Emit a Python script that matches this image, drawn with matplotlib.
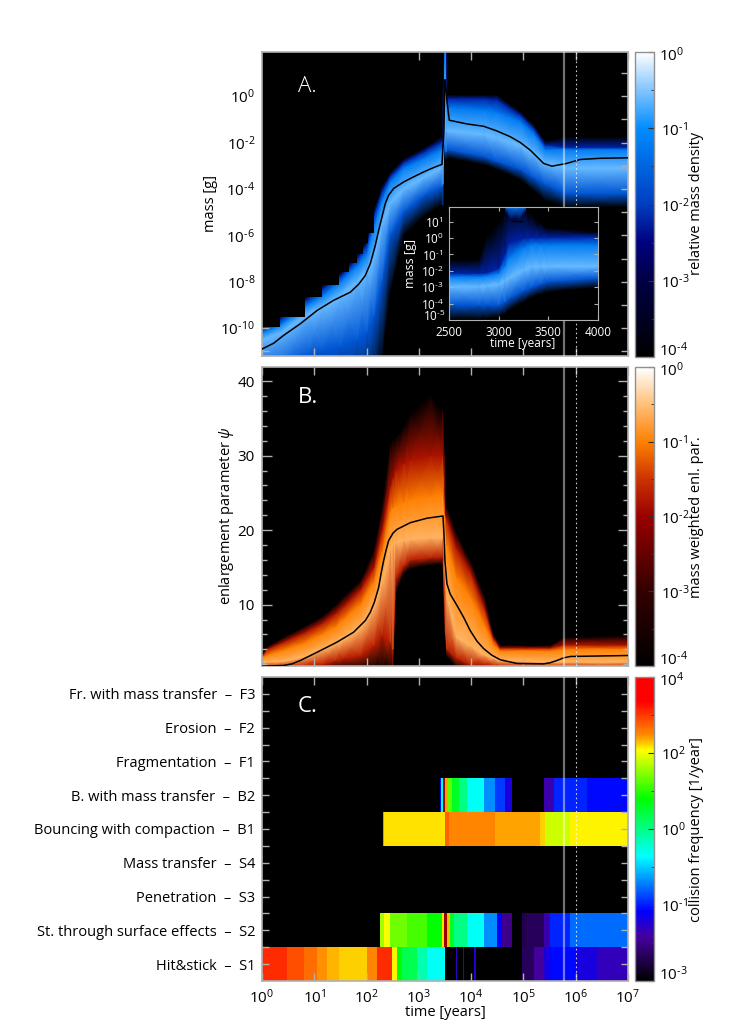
import numpy as np
import matplotlib
matplotlib.use('Agg')
import matplotlib.pyplot as plt
from matplotlib.colors import LinearSegmentedColormap, LogNorm
from matplotlib.cm import ScalarMappable
from matplotlib.ticker import FixedLocator, NullLocator, NullFormatter

plt.rcParams['font.family'] = ['Open Sans', 'DejaVu Sans']
plt.rcParams['mathtext.fontset'] = 'custom'
plt.rcParams['mathtext.rm'] = 'Open Sans'
plt.rcParams['mathtext.it'] = 'Open Sans:italic'

# panel A, log10 time and log10 mass of the density contours
a_t = [0, .35, .86, 1.15, 1.5, 1.82, 2.0, 2.14, 2.29, 2.45, 2.71, 3.09, 3.44, 3.465, 3.475, 3.525, 3.545,
       4.24, 4.49, 4.94, 5.19, 5.42, 5.83, 7]
a_low = [-14, -14, -14, -14, -14, -14, -14, -13, -11.4, -8.5, -6, -5.2, -4.7, -4.7, -2.6, -2.7, -2.65,
         -2.95, -3.15, -3.6, -4.06, -4.5, -4.78, -4.78]
a_lowmid = [-12, -11.9, -11.2, -11, -10.8, -10.5, -10.2, -9.5, -8, -6, -5, -4.3, -3.9, -3.8, -2.3, -2.4, -2.3,
            -2.6, -2.8, -3.15, -3.5, -3.8, -4.2, -4.2]
a_peak = [-10.5, -10.2, -9.4, -9.1, -8.6, -8.0, -7.6, -7, -5.5, -4.6, -4.0, -3.5, -3.1, -3, -1.5, -1.5, -1.5,
          -1.65, -1.8, -2.15, -2.5, -2.9, -3.1, -3.1]
a_up = [-10.2, -9.85, -9.0, -8.6, -8, -7.3, -6.8, -5.6, -4.5, -3.7, -3.1, -2.7, -2.3, -2.2, 2.4, 2.4, -.5,
        -.6, -.7, -1.1, -1.6, -2.3, -2.3, -2.3]
a_edge = [-10.0, -9.6, -8.75, -8.3, -7.75, -7.0, -6.4, -5.1, -4.1, -3.45, -2.85, -2.4, -1.95, -1.9, 2.5, 2.5, -.1,
          -.1, -.15, -.8, -1.35, -2.1, -2.2, -2.2]
a_top = [-9.9, -9.45, -8.6, -8.15, -7.6, -6.8, -6.2, -4.9, -3.9, -3.3, -2.7, -2.25, -1.75, -1.7, 2.6, 2.6, .04,
         .04, .04, -.68, -1.25, -1.95, -1.75, -1.75]
a_levels = [1e-4, .02, .25, .06, 6e-3, 1e-4]
a_step_t = [0, .35, .83, 1.15, 1.47, 1.66, 1.82, 1.93, 2.02, 2.14]
a_step_y = [-9.93, -9.5, -8.65, -8.15, -7.6, -7.2, -6.8, -6.35, -5.9, -5.9]
a_line_t = [0, .223, .414, .733, 1.052, 1.37, 1.689, 1.848, 1.976, 2.071, 2.167, 2.231, 2.294, 2.358, 2.422, 2.518,
            2.709, 2.9, 3.091, 3.282, 3.442, 3.48, 3.495, 3.505, 3.537, 3.582, 3.92, 4.238, 4.49, 4.748, 4.94,
            5.13, 5.26, 5.386, 5.545, 5.83, 6.087, 6.47, 7]
a_line = [-10.9, -10.65, -10.31, -9.81, -9.24, -8.8, -8.45, -8.11, -7.73, -7.22, -6.43, -5.79, -5.21, -4.63, -4.27, -3.98,
          -3.7, -3.48, -3.27, -3.08, -2.94, -1.5, .7, .7, -.2, -1.04, -1.2, -1.3, -1.5, -1.75, -2.0,
          -2.33, -2.62, -2.9, -3.02, -2.9, -2.73, -2.68, -2.66]

# inset of panel A, linear time
ins_t = [2500, 2800, 2880, 3000, 3060, 3100, 3250, 3330, 3420, 3500, 4000]
ins_low = [-4.94, -4.94, -4.9, -4.8, -4.6, -4.4, -3.9, -3.6, -3.4, -3.27, -3.0]
ins_lowmid = [-4.08, -4.08, -4.08, -4.08, -3.9, -3.7, -3.2, -3.0, -2.8, -2.65, -2.45]
ins_peak = [-2.96, -2.96, -2.9, -2.8, -2.6, -2.45, -1.95, -1.75, -1.73, -1.73, -1.73]
ins_up = [-2.35, -2.35, -2.3, -2.14, -1.7, -1.2, -.6, -.4, -.4, -.4, -.4]
ins_edge = [-2.14, -2.14, -2.1, -1.84, -1.0, -.3, .0, .05, .05, .05, .1]
ins_top = [-1.33, -1.3, .1, 1.0, 1.6, 1.95, 1.95, 1.4, .9, .6, .37]
cap_t = [3070, 3120, 3210, 3270]
cap_low = [1.6, 1.15, 1.15, 1.6]
cap_high = [1.95, 1.95, 1.95, 1.95]

# panel B, log10 time and enlargement parameter contours
b_t = [0, .096, .414, .797, 1.147, 1.402, 1.562, 1.881, 2.135, 2.294, 2.454, 2.505, 2.556, 2.709, 2.836, 3.218, 3.46,
       3.49, 3.51, 3.537, 3.728, 3.983, 4.238, 4.43, 4.557, 5.513, 5.768, 7]
b_low = [1.2, 1.2, 1.2, 1.2, 1.2, 1.2, 1.2, 1.2, 1.2, 1.2, 1.2, 1.2, 11.5, 14.1, 14.8, 15.3, 15.4,
         7, 4.5, 3, 1.5, 1.2, 1.2, 1.2, 1.2, 1.2, 1.2, 1.2]
b_lowmid = [1.6, 1.6, 1.6, 1.7, 2, 2.5, 2.8, 3.2, 4.5, 6, 5, 4, 13.5, 15.2, 16, 16.3, 16.4,
            11, 6, 4, 2.8, 2, 2, 1.8, 1.7, 1.6, 1.6, 1.6]
b_peak = [2.2, 2.3, 2.4, 3.0, 3.9, 4.7, 5.3, 6.8, 9.5, 13, 17.5, 18, 18.3, 18.6, 18.8, 19, 19,
          17, 13, 11, 5.6, 4.5, 3.3, 2.8, 2.5, 2.3, 2.3, 2.3]
b_up1 = [2.9, 3.2, 3.9, 4.8, 6, 7, 8, 10, 13, 17, 22.5, 23, 23.3, 23.7, 24, 24.5, 24.8,
         22.5, 20, 18, 13.5, 11, 7.5, 4.6, 3.8, 3.8, 4.0, 4.0]
b_up2 = [3.1, 4.0, 5.0, 6.2, 7.5, 8.8, 9.8, 12, 15, 20, 26, 27, 28, 29, 29.5, 30, 30,
         27, 22, 21.5, 17.5, 14.5, 10, 5.5, 4.2, 4.2, 4.6, 4.6]
b_top = [3.2, 4.3, 5.6, 7, 8.4, 9.9, 11.1, 13.2, 17.2, 23, 31.5, 32, 32.5, 34, 35.8, 38.2, 36,
         30, 23.5, 23, 19.5, 15.9, 11.4, 5.85, 4.5, 4.5, 5.6, 5.85]
b_levels = [1e-4, .02, .25, .1, .015, 1e-4]
b_line_t = [0, .414, .574, .733, 1.052, 1.434, 1.753, 1.976, 2.071, 2.148, 2.231, 2.275, 2.326, 2.377, 2.422, 2.505,
            2.581, 2.836, 3.155, 3.461, 3.48, 3.499, 3.537, 3.601, 3.728, 3.856, 3.983, 4.111, 4.238, 4.398, 4.557,
            4.876, 5.386, 5.513, 5.641, 5.768, 5.895, 7]
b_line = [1.74, 1.83, 2.05, 2.5, 3.6, 4.96, 6.3, 7.86, 8.97, 10.3, 12.3, 14.1, 15.9, 17.4, 18.6, 19.6,
          20.1, 21, 21.6, 21.9, 19.5, 15.9, 12.8, 11.4, 9.9, 8.3, 6.5, 5.1, 4.1, 3.2, 2.6,
          2.1, 2.05, 2.2, 2.5, 2.85, 3.04, 3.17]

# panel C, log10 time edges and log10 collision frequency per process
categories = ['Hit&stick  \u2013  S1', 'St. through surface effects  \u2013  S2', 'Penetration  \u2013  S3',
              'Mass transfer  \u2013  S4', 'Bouncing with compaction  \u2013  B1', 'B. with mass transfer  \u2013  B2',
              'Fragmentation  \u2013  F1', 'Erosion  \u2013  F2', 'Fr. with mass transfer  \u2013  F3']
s1_edges = [0, .478, .797, 1.05, 1.243, 1.466, 2.008, 2.2, 2.486, 2.58, 2.677, 2.964, 3.155, 3.505, 3.709, 3.735,
            3.837, 3.856, 4.06, 4.085, 4.97, 5.194, 5.386, 5.513, 5.99, 6.405, 7]
s1_vals = [3.2, 3.0, 2.85, 2.65, 2.55, 2.45, 2.7, 3.2, 2.35, 1.2, .8, .3, -.1, -3, -1.8, -3,
           -1.8, -3, -1.7, -3, -2.4, -2, -1.6, -1.35, -1.6, -1.8]
s2_edges = [2.263, 2.326, 2.454, 2.772, 3.155, 3.442, 3.474, 3.537, 3.588, 3.665, 3.92, 4.238, 4.493, 4.589, 4.78,
            4.97, 5.067, 5.386, 5.513, 5.895, 7]
s2_vals = [1.9, 2.3, 1.7, 1.5, 1.2, 2.4, 4.5, 2.5, 1, .5, -.1, -.7, -1.4, -2.1, -3, -2.5, -2.4, -1.9, -1.2, -.85]
b1_edges = [2.314, 2.339, 3.505, 3.582, 4.461, 5.309, 5.417, 5.895, 7]
b1_vals = [1.3, 2.4, 2.9, 2.7, 2.6, 2.45, 2.1, 2.35]
b2_edges = [3.397, 3.423, 3.455, 3.505, 3.55, 3.633, 3.76, 3.92, 4.238, 4.461, 4.653, 4.78, 5.386, 5.577, 6.214, 7]
b2_vals = [-1.3, -.1, 4.5, 2.6, 1.6, 1, .5, -.1, -.7, -1.1, -1.6, -3, -1.9, -1.2, -1.35]

GREY = '#b0b0b0'
W, H = 747, 1033

blues = LinearSegmentedColormap.from_list('blues', [
    (0, (0, 0, 0)), (.25, (0, 0, .27)), (.375, (0, 0, .5)), (.5, (0, .24, .75)), (.75, (0, .55, 1)),
    (.875, (.5, .77, 1)), (1, (1, 1, 1))])
oranges = LinearSegmentedColormap.from_list('oranges', [
    (0, (0, 0, 0)), (.25, (.2, 0, 0)), (.5, (.6, 0, 0)), (.625, (.8, .2, 0)), (.75, (1, .5, 0)),
    (.875, (1, .75, .47)), (1, (1, 1, 1))])
rainbow = LinearSegmentedColormap.from_list('rainbow', [
    (0, (0, 0, 0)), (.145, (.27, 0, .63)), (.23, (0, 0, 1)), (.41, (0, 1, 1)), (.6, (0, 1, 0)),
    (.76, (1, 1, 0)), (.81, (1, .55, 0)), (.92, (1, 0, 0)), (1, (1, 0, 0))])
rainbow.set_over('#a00000')


def axes_px(x0, y0, x1, y1):
    return fig.add_axes([x0 / W, 1 - y1 / H, (x1 - x0) / W, (y1 - y0) / H])


def text_px(x, y, s, **kw):
    fig.text(x / W, 1 - y / H, s, **kw)


def band_mesh(ax, t, rows, levels, cmap, norm):
    t = np.asarray(t, dtype=float)
    X = np.tile(t, (len(rows), 1))
    Y = np.array(rows, dtype=float)
    C = np.tile(np.array(levels)[:, None], (1, len(t)))
    ax.pcolormesh(X, Y, C, shading='gouraud', cmap=cmap, norm=norm, rasterized=True)


def style_panel(ax):
    ax.set_facecolor('black')
    ax.set_xscale('log')
    ax.set_xlim(1, 1e7)
    ax.xaxis.set_major_locator(FixedLocator([10.0**i for i in range(8)]))
    ax.xaxis.set_minor_locator(NullLocator())
    ax.tick_params(axis='both', which='both', direction='in', top=True, right=True, color=GREY, width=1)
    ax.tick_params(axis='x', which='major', length=6)
    for s in ax.spines.values():
        s.set_color(GREY)
        s.set_linewidth(1.2)
    ax.axvline(10**5.775, color='white', alpha=.45, lw=1.6, zorder=6)
    ax.axvline(1e6, color='white', alpha=.8, lw=.8, ls=(0, (1.5, 2.5)), zorder=6)


def pow_label(e):
    if e < 0:
        return r'$\mathregular{10^{\text{-}%d}}$' % abs(e)
    return r'$\mathregular{10^{%d}}$' % e


def add_cbar(y0, y1, cmap, norm, ticks, exps, minors, label, label_y):
    cax = axes_px(635, y0, 654, y1)
    cb = fig.colorbar(ScalarMappable(norm=norm, cmap=cmap), cax=cax)
    # the end labels sit a little inside the bar, so they are placed by hand
    cb.set_ticks(ticks, labels=[''] + [pow_label(e) for e in exps[1:-1]] + [''])
    text_px(659, y0 + 4, pow_label(exps[0]), fontsize=11, ha='left', va='center')
    text_px(659, y1 - 6, pow_label(exps[-1]), fontsize=11, ha='left', va='center')
    cax.yaxis.set_minor_locator(FixedLocator(minors))
    cax.yaxis.set_minor_formatter(NullFormatter())
    cax.tick_params(axis='y', which='major', direction='in', length=4, color='#303030', labelsize=11, pad=5)
    cax.tick_params(axis='y', which='minor', direction='in', length=2, color='#303030')
    cb.outline.set_edgecolor('#909090')
    cb.outline.set_linewidth(1)
    text_px(697, label_y, label, rotation=90, ha='center', va='center', fontsize=10.5)


fig = plt.figure(figsize=(W / 100, H / 100), dpi=100)

# A
norm_a = LogNorm(1e-4, 1)
ax_a = axes_px(262, 52, 628, 356)
style_panel(ax_a)
band_mesh(ax_a, 10.0**np.array(a_t),
          [10.0**np.array(r) for r in (a_low, a_lowmid, a_peak, a_up, a_edge, a_top)], a_levels, blues, norm_a)
ax_a.fill_between(10.0**np.array(a_step_t), 10.0**np.array(a_step_y), 1e3, step='post', color='black', lw=0, zorder=2)
ax_a.plot(10.0**np.array(a_line_t), 10.0**np.array(a_line), color='black', lw=1.1, zorder=4)
ax_a.set_yscale('log')
ax_a.set_ylim(10**-11.2, 10**1.9)
ax_a.yaxis.set_major_locator(FixedLocator([10.0**e for e in range(-10, 1, 2)]))
ax_a.yaxis.set_minor_locator(FixedLocator([10.0**e for e in range(-11, 2, 2)]))
ax_a.yaxis.set_minor_formatter(NullFormatter())
ax_a.set_yticklabels([pow_label(e) for e in range(-10, 1, 2)])
ax_a.tick_params(axis='y', which='both', length=5, labelsize=11, pad=5)
ax_a.tick_params(axis='x', labelbottom=False)
text_px(210, 204, 'mass [g]', rotation=90, ha='center', va='center', fontsize=10.5)
text_px(298, 87, 'A.', color='white', fontsize=16, ha='left', va='center', fontweight='light')

# inset
ins = axes_px(449, 207, 598, 320)
ins.set_facecolor('black')
band_mesh(ins, ins_t, [10.0**np.array(r) for r in (ins_low, ins_lowmid, ins_peak, ins_up, ins_edge, ins_top)],
          a_levels, blues, norm_a)
band_mesh(ins, cap_t, [10.0**np.array(cap_low), 10.0**np.array(cap_high)], [1e-3, .06], blues, norm_a)
ins.plot([3130, 3230], [10**1.05, 10**1.05], color='black', lw=1)
ins.set_yscale('log')
ins.set_xlim(2500, 4000)
ins.set_ylim(1e-5, 10**1.9)
ins.set_xticks([2500, 3000, 3500, 4000])
ins.set_yticks([10.0**e for e in range(-4, 2)], labels=[pow_label(e) for e in range(-4, 2)])
ins.yaxis.set_minor_locator(NullLocator())
ins.tick_params(axis='both', direction='in', top=True, right=True, color=GREY, labelcolor='white', labelsize=8.5, length=3, pad=4)
for s in ins.spines.values():
    s.set_color(GREY)
text_px(445, 316, pow_label(-5), color='white', fontsize=8.5, ha='right', va='center')
text_px(411, 263, 'mass [g]', rotation=90, color='white', fontsize=9, ha='center', va='center')
text_px(523, 344, 'time [years]', color='white', fontsize=8.5, ha='center', va='center')
add_cbar(52, 357, blues, norm_a, [1, .1, .01, 1e-3, 1e-4], (0, -1, -2, -3, -4),
         [10**-.5, 10**-1.5, 10**-2.5, 10**-3.5], 'relative mass density', 203)

# B
norm_b = LogNorm(1e-4, 1)
ax_b = axes_px(262, 367, 628, 666)
style_panel(ax_b)
band_mesh(ax_b, 10.0**np.array(b_t), [b_low, b_lowmid, b_peak, b_up1, b_up2, b_top], b_levels, oranges, norm_b)
ax_b.plot(10.0**np.array(b_line_t), b_line, color='black', lw=1.1, zorder=4)
ax_b.set_ylim(1.76, 41.9)
ax_b.set_yticks([10, 20, 30, 40])
ax_b.set_yticks(np.arange(2, 42, 2), minor=True)
ax_b.tick_params(axis='y', which='major', length=7, labelsize=11, pad=5)
ax_b.tick_params(axis='y', which='minor', length=3.5)
ax_b.tick_params(axis='x', labelbottom=False)
text_px(226, 516, r'enlargement parameter $\psi$', rotation=90, ha='center', va='center', fontsize=10.5)
text_px(298, 397, 'B.', color='white', fontsize=16, ha='left', va='center')
add_cbar(367, 666, oranges, norm_b, [1, .1, .01, 1e-3, 1e-4], (0, -1, -2, -3, -4),
         [10**-.5, 10**-1.5, 10**-2.5, 10**-3.5], 'mass weighted enl. par.', 517)

# C
norm_c = LogNorm(1e-3, 1e4)
ax_c = axes_px(262, 677, 628, 981)
style_panel(ax_c)
rows_c = [(0, s1_edges, s1_vals), (1, s2_edges, s2_vals), (4, b1_edges, b1_vals), (5, b2_edges, b2_vals)]
for row, edges, vals in rows_c:
    ax_c.pcolormesh(10.0**np.array(edges), [row + .5, row + 1.5], 10.0**np.array(vals)[None, :],
                    cmap=rainbow, norm=norm_c, shading='flat', rasterized=True)
ax_c.set_ylim(.5, 9.5)
ax_c.set_yticks(range(1, 10), labels=categories)
ax_c.set_yticks(np.arange(1.5, 9.5), minor=True)
ax_c.tick_params(axis='y', which='both', length=5, labelsize=10.5, pad=5)
ax_c.set_xticklabels([pow_label(i) for i in range(8)])
ax_c.tick_params(axis='x', labelsize=11, pad=5)
text_px(445, 1012, 'time [years]', ha='center', va='center', fontsize=10.5)
text_px(298, 706, 'C.', color='white', fontsize=16, ha='left', va='center')
add_cbar(677, 981, rainbow, norm_c, [1e4, 10**2.25, 10**.5, 10**-1.25, 1e-3], (4, 2, 0, -1, -3),
         [10**3.125, 10**1.375, 10**-.375, 10**-2.125], 'collision frequency [1/year]', 830)

fig.savefig('out.png', dpi=100)
